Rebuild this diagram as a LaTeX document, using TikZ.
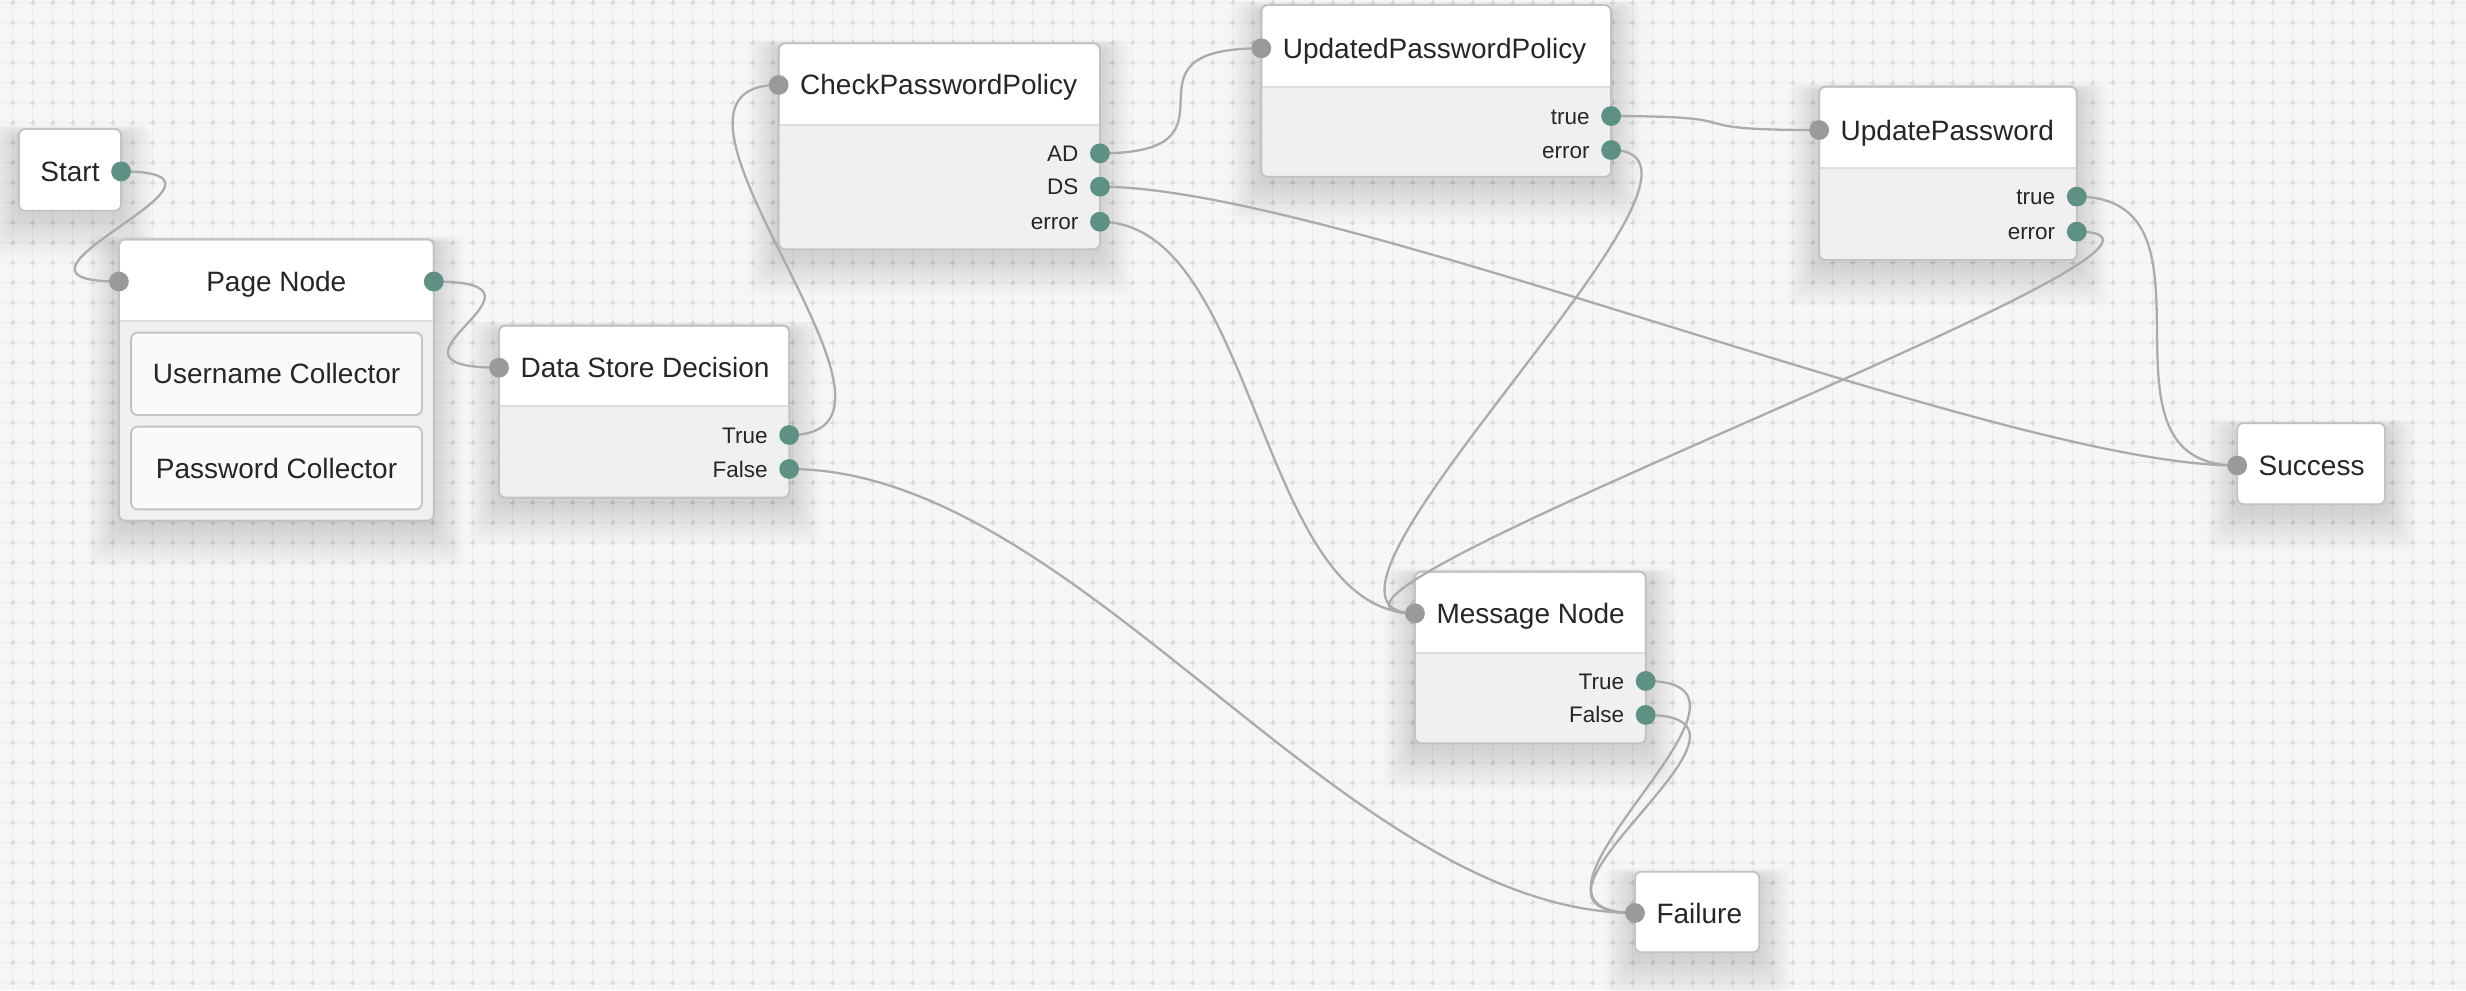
\documentclass[tikz,border=0pt]{standalone}
\usepackage{fontspec}
\setmainfont{Liberation Sans}
\definecolor{bgc}{HTML}{F6F6F6}
\definecolor{gridc}{HTML}{EDEDED}
\definecolor{crossc}{HTML}{DCDCDC}
\definecolor{borderc}{HTML}{C3C3C3}
\definecolor{divc}{HTML}{DDDDDD}
\definecolor{bodyc}{HTML}{F0F0F0}
\definecolor{innerc}{HTML}{FAFAFA}
\definecolor{portteal}{HTML}{5E9184}
\definecolor{inc}{HTML}{9A9A9A}
\definecolor{wirec}{HTML}{ABABAB}
\definecolor{txtc}{HTML}{262626}
\newcommand\rsTitleFont{\fontsize{17.8}{20}\selectfont}
\newcommand\rsLabelFont{\fontsize{14.3}{16}\selectfont}
\pgfdeclarelayer{gridlayer}
\pgfdeclarelayer{boxlayer}
\pgfdeclarelayer{wirelayer}
\pgfsetlayers{gridlayer,boxlayer,wirelayer,main}
\tikzset{
  boxshape/.style={draw=borderc, line width=1.2pt, fill=white, rounded corners=4pt,
    inner sep=0pt, outer sep=0pt},
  innerbox/.style={draw=borderc, line width=1.2pt, fill=innerc, rounded corners=4pt,
    inner sep=0pt, outer sep=0pt, text=txtc, font=\rsTitleFont},
  titletext/.style={text=txtc, font=\rsTitleFont, inner sep=0pt},
  plabel/.style={text=txtc, font=\rsLabelFont, inner sep=0pt},
  outport/.style={circle, fill=portteal, minimum size=12.6pt, inner sep=0pt, outer sep=0pt},
  inport/.style={circle, fill=inc, minimum size=12.6pt, inner sep=0pt, outer sep=0pt},
  wire/.style={draw=wirec, line width=1.45pt},
  gridline/.style={draw=gridc, line width=0.9pt},
  gridcross/.style={draw=crossc, line width=1.2pt, dash pattern=on 3.2pt off 9.517pt},
  shadowlayer/.style={fill=black, opacity=0.0065, rounded corners=6pt},
}
% soft shadow: x1, y1, x2, y2
\newcommand\rsshadow[4]{%
  \foreach \k in {1,...,18}{\fill[shadowlayer] ({#1-\k*1.1},{#2+3-\k*0.3}) rectangle ({#3+\k*1.1},{#4+3+\k*1.5});}%
}
% name, x1, y1, x2, y2, divider y
\newcommand\rsbox[6]{%
  \node[boxshape, minimum width={#4-#2}, minimum height={#5-#3}, anchor=north west] (#1) at (#2,#3) {};
  \begin{scope}
    \clip[rounded corners=4pt] (#1.north west) rectangle (#1.south east);
    \fill[bodyc] (#2,#6) rectangle (#4,#5);
  \end{scope}
  \draw[divc, line width=1.2pt] (#2,#6) -- (#4,#6);
  \draw[borderc, line width=1.2pt, rounded corners=4pt] (#1.north west) rectangle (#1.south east);
}
\begin{document}
\begin{tikzpicture}[x=1pt,y=-1pt]
\useasboundingbox (0,0) rectangle (1568,629.5);
\begin{pgfonlayer}{gridlayer}
  \fill[bgc] (0,0) rectangle (1568,629.5);
  \foreach \i in {0,...,122} {\draw[gridline] ({8.07+12.717*\i},0) -- ({8.07+12.717*\i},629.5);}
  \foreach \j in {0,...,49} {\draw[gridline] (0,{1.65+12.717*\j}) -- (1568,{1.65+12.717*\j});}
  \foreach \i in {0,...,122} {\draw[gridcross] ({8.07+12.717*\i},0.05) -- ({8.07+12.717*\i},629.5);}
  \foreach \j in {0,...,49} {\draw[gridcross] (6.47,{1.65+12.717*\j}) -- (1568,{1.65+12.717*\j});}
  \rsshadow{12}{82}{77}{134}
  \rsshadow{75.6}{152.2}{275.8}{331}
  \rsshadow{317.3}{207}{501.8}{316.4}
  \rsshadow{495.1}{27.5}{699.4}{158.5}
  \rsshadow{802}{3.2}{1024.4}{112.4}
  \rsshadow{1156.7}{55.1}{1320.5}{165.3}
  \rsshadow{1422.5}{269}{1516.5}{320.6}
  \rsshadow{899.7}{363.5}{1046.4}{472.6}
  \rsshadow{1039.6}{554.3}{1118.6}{605.5}
\end{pgfonlayer}

\begin{pgfonlayer}{boxlayer}
  \node[boxshape, minimum width=65pt, minimum height=52pt, anchor=north west] (start) at (12,82) {};
  \rsbox{page}{75.6}{152.2}{275.8}{331}{204}
  \node[innerbox, minimum width=184.9pt, minimum height=52.4pt, anchor=north west] (user) at (83.4,211.5) {Username Collector};
  \node[innerbox, minimum width=184.9pt, minimum height=52.6pt, anchor=north west] (pass) at (83.4,271.3) {Password Collector};
  \rsbox{dsd}{317.3}{207}{501.8}{316.4}{258.2}
  \rsbox{cpp}{495.1}{27.5}{699.4}{158.5}{79.5}
  \rsbox{upp}{802}{3.2}{1024.4}{112.4}{55.5}
  \rsbox{up}{1156.7}{55.1}{1320.5}{165.3}{107}
  \node[boxshape, minimum width=94pt, minimum height=51.6pt, anchor=north west] (succ) at (1422.5,269) {};
  \rsbox{msg}{899.7}{363.5}{1046.4}{472.6}{415}
  \node[boxshape, minimum width=79pt, minimum height=51.2pt, anchor=north west] (fail) at (1039.6,554.3) {};
\end{pgfonlayer}

% titles
\node[titletext, anchor=base west] (start-t) at (25.5,115.4) {Start};
\node[titletext, anchor=base] (page-t) at (175.7,185.4) {Page Node};
\node[titletext, anchor=base west] (dsd-t) at (330.8,240.2) {Data Store Decision};
\node[titletext, anchor=base west] (cpp-t) at (508.6,60.4) {CheckPasswordPolicy};
\node[titletext, anchor=base west] (upp-t) at (815.5,37.1) {UpdatedPasswordPolicy};
\node[titletext, anchor=base west] (up-t) at (1170.2,89.1) {UpdatePassword};
\node[titletext, anchor=base west] (succ-t) at (1436,302.2) {Success};
\node[titletext, anchor=base west] (msg-t) at (913.2,396.4) {Message Node};
\node[titletext, anchor=base west] (fail-t) at (1053.1,586.9) {Failure};

% port labels
\node[plabel, anchor=base east] (dsd-true-l) at (488.3,281.7) {True};
\node[plabel, anchor=base east] (dsd-false-l) at (488.3,303.3) {False};
\node[plabel, anchor=base east] (cpp-ad-l) at (685.9,102.6) {AD};
\node[plabel, anchor=base east] (cpp-ds-l) at (685.9,123.8) {DS};
\node[plabel, anchor=base east] (cpp-err-l) at (685.9,146.1) {error};
\node[plabel, anchor=base east] (upp-true-l) at (1010.9,78.9) {true};
\node[plabel, anchor=base east] (upp-err-l) at (1010.9,100.5) {error};
\node[plabel, anchor=base east] (up-true-l) at (1307,130.1) {true};
\node[plabel, anchor=base east] (up-err-l) at (1307,152.4) {error};
\node[plabel, anchor=base east] (msg-true-l) at (1032.9,438.1) {True};
\node[plabel, anchor=base east] (msg-false-l) at (1032.9,459.7) {False};

% ports
\node[outport] (start-out) at (77,109) {};
\node[inport] (page-in) at (75.6,179) {};
\node[outport] (page-out) at (275.8,179) {};
\node[inport] (dsd-in) at (317.3,233.8) {};
\node[outport] (dsd-true) at (501.8,276.6) {};
\node[outport] (dsd-false) at (501.8,298.2) {};
\node[inport] (cpp-in) at (495.1,54) {};
\node[outport] (cpp-ad) at (699.4,97.5) {};
\node[outport] (cpp-ds) at (699.4,118.7) {};
\node[outport] (cpp-err) at (699.4,141) {};
\node[inport] (upp-in) at (802,30.7) {};
\node[outport] (upp-true) at (1024.4,73.8) {};
\node[outport] (upp-err) at (1024.4,95.4) {};
\node[inport] (up-in) at (1156.7,82.7) {};
\node[outport] (up-true) at (1320.5,125) {};
\node[outport] (up-err) at (1320.5,147.3) {};
\node[inport] (succ-in) at (1422.5,296) {};
\node[inport] (msg-in) at (899.7,390) {};
\node[outport] (msg-true) at (1046.4,433) {};
\node[outport] (msg-false) at (1046.4,454.6) {};
\node[inport] (fail-in) at (1039.6,580.5) {};

\begin{pgfonlayer}{wirelayer}
  \draw[wire] (start-out.center) .. controls +(98,0) and +(-98,0) .. (page-in.center);
  \draw[wire] (page-out.center) .. controls +(92,0) and +(-92,0) .. (dsd-in.center);
  \draw[wire] (dsd-true.center) .. controls +(104,0) and +(-104,0) .. (cpp-in.center);
  \draw[wire] (dsd-false.center) .. controls +(185,0) and +(-185,0) .. (fail-in.center);
  \draw[wire] (cpp-ad.center) .. controls +(100,0) and +(-100,0) .. (upp-in.center);
  \draw[wire] (cpp-ds.center) .. controls +(150,0) and +(-150,0) .. (succ-in.center);
  \draw[wire] (cpp-err.center) .. controls +(100,0) and +(-100,0) .. (msg-in.center);
  \draw[wire] (upp-true.center) .. controls +(100,0) and +(-100,0) .. (up-in.center);
  \draw[wire] (upp-err.center) .. controls +(100,0) and +(-100,0) .. (msg-in.center);
  \draw[wire] (up-true.center) .. controls +(100,0) and +(-100,0) .. (succ-in.center);
  \draw[wire] (up-err.center) .. controls +(130,0) and +(-130,0) .. (msg-in.center);
  \draw[wire] (msg-true.center) .. controls +(100,0) and +(-100,0) .. (fail-in.center);
  \draw[wire] (msg-false.center) .. controls +(100,0) and +(-100,0) .. (fail-in.center);
\end{pgfonlayer}
\end{tikzpicture}
\end{document}
